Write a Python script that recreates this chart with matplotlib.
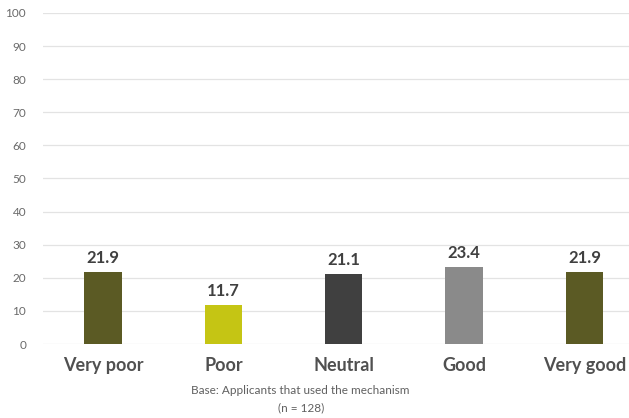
import matplotlib.pyplot as plt

categories = ['Very poor', 'Poor', 'Neutral', 'Good', 'Very good']
values = [21.9, 11.7, 21.1, 23.4, 21.9]
colors = ['#5b5a24', '#c5c514', '#404040', '#8a8a8a', '#5b5a24']
yticks = list(range(0, 101, 10))

plt.rcParams['font.family'] = ['Lato', 'DejaVu Sans']

fig = plt.figure(figsize=(6.29, 4.18), dpi=100)
ax = fig.add_axes([0.068, 0.177, 0.932, 0.792])

x = list(range(len(categories)))
ax.bar(x, values, width=0.31, color=colors, zorder=3)
for xi, v in zip(x, values):
    ax.text(xi, v + 1.8, f'{v:.1f}', ha='center', va='bottom',
            fontsize=12, fontweight='bold', color='#404040')

ax.set_xlim(-0.5, 4.37)
ax.set_ylim(0, 100)
ax.set_yticks(yticks)
ax.grid(axis='y', color='#e3e3e3', linewidth=0.9, zorder=0)
ax.tick_params(axis='y', length=0, labelsize=8.5, labelcolor='#6a6a6a', pad=12)
ax.set_xticks(x)
ax.set_xticklabels(categories, fontsize=13, fontweight='bold', color='#505050')
ax.tick_params(axis='x', length=0, pad=9)
for s in ax.spines.values():
    s.set_visible(False)

fig.text(0.478, 0.045, 'Base: Applicants that used the mechanism\n(n = 128)',
         ha='center', va='center', fontsize=8.5, color='#606060', linespacing=1.6)

fig.savefig('out.png', dpi=100)
